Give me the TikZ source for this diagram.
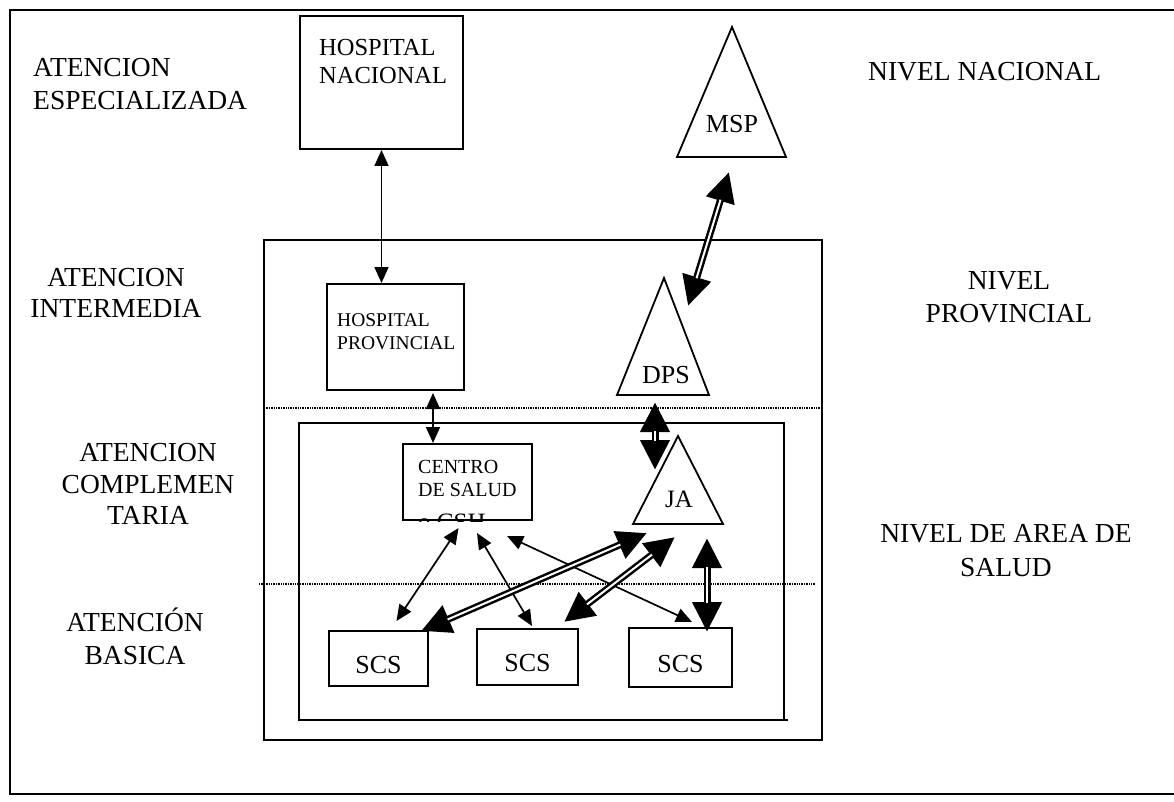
\documentclass[tikz,border=0pt]{standalone}
\usepackage{fontspec}
\setmainfont{Liberation Serif}
\usetikzlibrary{arrows.meta,calc}

\tikzset{
  box/.style={draw, line width=2pt, inner sep=0pt},
  tri/.style={line width=1.8pt, line join=miter},
  level/.style={font=\fontsize{27.5}{33}\selectfont, inner sep=0pt, align=center},
  boxtext/.style={inner sep=0pt, align=left},
  thinarrow/.style={line width=1.7pt,
    {Triangle[length=16pt,width=14pt]}-{Triangle[length=16pt,width=14pt]}},
  bigarrow/.style={line width=7pt,
    {Triangle[length=30pt,width=28pt]}-{Triangle[length=30pt,width=28pt]},
    postaction={draw=white, line width=2pt, -, shorten <=29pt, shorten >=29pt}},
  separator/.style={line width=1.4pt, dash pattern=on 1.4pt off 1pt},
}

\begin{document}
\begin{tikzpicture}[x=1pt, y=-1pt]

    \useasboundingbox (0,0) rectangle (1174,802);

    % frames
    \draw[line width=2.4pt] (1174,10) -- (10,10) -- (10,794) -- (1174,794);
    \draw[line width=2pt] (264,240) rectangle (822,740);
    \draw[line width=2pt] (788,720) -- (299,720) -- (299,423) -- (784,423) -- (784,720);
    \draw[separator] (264,408) -- (822,408);
    \draw[separator] (259,584) -- (815,584);

    % levels of care
    \node[level, align=left, anchor=south west] (especializada) at (33,110) {ATENCION\\ESPECIALIZADA};
    \node[level, anchor=south, font=\fontsize{27.5}{31}\selectfont] (intermedia) at (116,318) {ATENCION\\INTERMEDIA};
    \node[level, anchor=south, font=\fontsize{27.5}{31.5}\selectfont] (complementaria) at (148,525) {ATENCION\\COMPLEMEN\\TARIA};
    \node[level, anchor=south] (basica) at (135,665) {ATENCIÓN\\BASICA};

    \node[level, anchor=south west] (nacional) at (868,81) {NIVEL NACIONAL};
    \node[level, anchor=south] (provincial) at (1009,323) {NIVEL\\PROVINCIAL};
    \node[level, anchor=south, font=\fontsize{27.5}{34}\selectfont] (area) at (1006,577) {NIVEL DE AREA DE\\SALUD};

    % establishments
    \node[box, minimum width=163pt, minimum height=133pt] (hospNac) at (381.5,82.5) {};
    \node[boxtext, anchor=south west, font=\fontsize{24.5}{28}\selectfont] at (319,84) {HOSPITAL\\NACIONAL};

    \node[box, minimum width=137pt, minimum height=106pt] (hospProv) at (395.5,337) {};
    \node[boxtext, anchor=south west, font=\fontsize{19.5}{23.5}\selectfont] at (337,350) {HOSPITAL\\PROVINCIAL};

    \node[box, minimum width=129pt, minimum height=76pt] (csh) at (467.5,482) {};
    \node[boxtext, anchor=south west, font=\fontsize{20}{23}\selectfont] at (418,497) {CENTRO\\DE SALUD};
    \begin{scope}
        \clip (csh.south west) rectangle (csh.north east);
        \node[boxtext, anchor=base west, font=\fontsize{25}{28}\selectfont] at (418,530) {o CSH};
    \end{scope}

    \tikzset{scsbox/.style={box, font=\fontsize{26}{30}\selectfont, text height=29pt, text depth=0pt}}
    \node[scsbox, minimum width=99pt, minimum height=55pt] (scsA) at (378.5,658.5) {SCS};
    \node[scsbox, minimum width=101pt, minimum height=56pt] (scsB) at (527.5,657) {SCS};
    \node[scsbox, minimum width=103pt, minimum height=59pt] (scsC) at (680.5,657.5) {SCS};

    % authorities
    \coordinate (mspTop) at (732,27);
    \coordinate (mspL) at (677,157);
    \coordinate (mspR) at (786,157);
    \draw[tri] (mspTop) -- (mspR) -- (mspL) -- cycle;
    \node[font=\fontsize{26}{30}\selectfont, inner sep=0pt, anchor=base] (msp) at (732,133) {MSP};

    \coordinate (dpsTop) at (664,278);
    \coordinate (dpsL) at (617,395);
    \coordinate (dpsR) at (709,395);
    \draw[tri] (dpsTop) -- (dpsR) -- (dpsL) -- cycle;
    \node[font=\fontsize{26}{30}\selectfont, inner sep=0pt, anchor=base] (dps) at (666,383) {DPS};

    \coordinate (jaTop) at (678,436);
    \coordinate (jaL) at (633,524);
    \coordinate (jaR) at (723,524);
    \draw[tri] (jaTop) -- (jaR) -- (jaL) -- cycle;
    \node[font=\fontsize{25}{30}\selectfont, inner sep=0pt, anchor=base] (ja) at (679,507) {JA};

    % thin links
    \draw[thinarrow] (hospNac.south) -- (hospNac.south |- hospProv.north);
    \draw[thinarrow] ($(hospProv.south)+(37.5,2)$) -- ($(csh.north)+(-34.5,0)$);
    \draw[thinarrow] ($(csh.south)+(-9,7)$) -- ($(scsA.north)+(18,-9)$);
    \draw[thinarrow] ($(csh.south)+(9.5,12)$) -- ($(scsB.north)+(4.5,-2)$);
    \draw[thinarrow] ($(csh.south)+(39.5,15)$) -- ($(scsC.north)+(11.5,-5)$);

    % double links
    \coordinate (mspDown) at (729,172);
    \coordinate (dpsUp) at (688,306);
    \coordinate (dpsDown) at (655,402);
    \coordinate (jaUp) at (655,470);
    \coordinate (jaLeft) at (647,533);
    \coordinate (jaMid) at (675,537);
    \coordinate (jaBottom) at (707,538);
    \draw[bigarrow] (mspDown) -- (dpsUp);
    \draw[bigarrow] (dpsDown) -- (jaUp);
    \draw[bigarrow] ($(scsA.north east)+(-8,1)$) -- (jaLeft);
    \draw[bigarrow] ($(scsB.north east)+(-15,-6)$) -- (jaMid);
    \draw[bigarrow] (jaBottom) -- ($(jaBottom |- scsC.north)+(0,5)$);

\end{tikzpicture}
\end{document}
